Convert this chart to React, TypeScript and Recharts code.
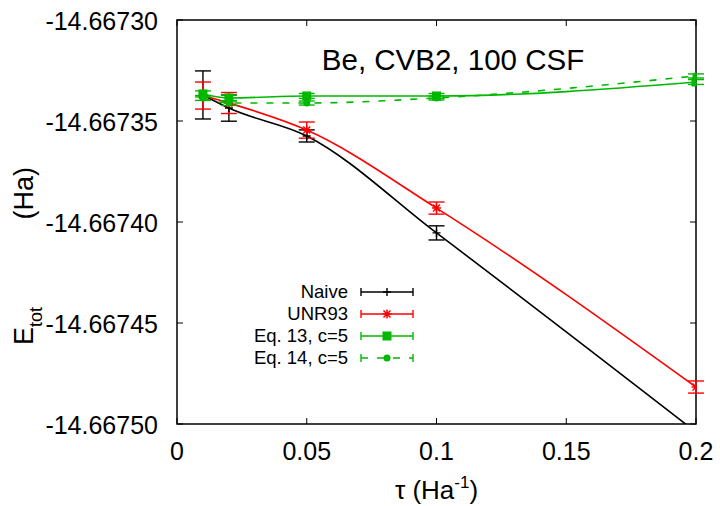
import { LineChart, Line, XAxis, YAxis, ErrorBar, ReferenceArea, Legend } from "recharts";

// tau values (Ha^-1)
const TAU = [0.01, 0.02, 0.05, 0.1, 0.2];

// total energies (Ha) and their error bars
// (the Naive point at tau=0.2 lies below the plotted range, its bar is not shown)
const NAIVE = [-14.6673371, -14.6673436, -14.6673574, -14.6674054, -14.667504];
const NAIVE_ERR = [0.0000119, 0.0000065, 0.000003, 0.0000035, null];
const UNR93 = [-14.6673374, -14.6673411, -14.6673545, -14.6673931, -14.6674817];
const UNR93_ERR = [0.0000067, 0.0000052, 0.000004, 0.000003, 0.000003];
const EQ13 = [-14.6673366, -14.6673386, -14.6673376, -14.6673376, -14.6673307];
const EQ13_ERR = [0.0000015, 0.0000015, 0.0000012, 0.0000012, 0.0000012];
const EQ14 = [-14.6673386, -14.6673411, -14.6673411, -14.6673386, -14.6673277];
const EQ14_ERR = [0.0000012, 0.0000012, 0.000001, 0.000001, 0.000001];

const X_TICKS = [0, 0.05, 0.1, 0.15, 0.2];
const Y_TICKS = [-14.6675, -14.66745, -14.6674, -14.66735, -14.6673];

const FONT = '"Liberation Sans", Arial, Helvetica, sans-serif';
const GREEN = "#00b800";

// plot frame in px (chart margins + axis sizes below give the same box)
const BOX = { left: 177, right: 696, top: 20, bottom: 424 };

const data = TAU.map((t, i) => ({
  tau: t,
  naive: NAIVE[i],
  naiveErr: NAIVE_ERR[i],
  unr: UNR93[i],
  unrErr: UNR93_ERR[i],
  eq13: EQ13[i],
  eq13Err: EQ13_ERR[i],
  eq14: EQ14[i],
  eq14Err: EQ14_ERR[i],
}));

const SERIES = [
  { key: "naive", err: "naiveErr", name: "Naive", color: "#000", marker: "plus", dash: undefined },
  { key: "unr", err: "unrErr", name: "UNR93", color: "#ff0000", marker: "star", dash: undefined },
  { key: "eq13", err: "eq13Err", name: "Eq. 13, c=5", color: GREEN, marker: "square", dash: undefined },
  { key: "eq14", err: "eq14Err", name: "Eq. 14, c=5", color: GREEN, marker: "circle", dash: "7 9" },
];

function Marker({ kind, cx, cy, color }: any) {
  if (cx == null || cy == null) return null;
  if (kind === "plus")
    return <path d={`M${cx - 4},${cy}h8M${cx},${cy - 4}v8`} stroke={color} strokeWidth={1.4} fill="none" />;
  if (kind === "star")
    return (
      <path
        d={`M${cx - 4.5},${cy}h9M${cx},${cy - 4.5}v9M${cx - 3.5},${cy - 3.5}l7,7M${cx - 3.5},${cy + 3.5}l7,-7`}
        stroke={color}
        strokeWidth={1.5}
        fill="none"
      />
    );
  if (kind === "square") return <rect x={cx - 4.5} y={cy - 4.5} width={9} height={9} fill={color} />;
  return <circle cx={cx} cy={cy} r={3.5} fill={color} />;
}

function XTick({ x, y, payload }: any) {
  const cx = payload.coordinate;
  return (
    <g>
      <line x1={cx} x2={cx} y1={BOX.bottom} y2={BOX.bottom - 6} stroke="#000" strokeWidth={1} />
      <line x1={cx} x2={cx} y1={BOX.top} y2={BOX.top + 6} stroke="#000" strokeWidth={1} />
      <text x={x} y={y} dy="0.71em" textAnchor="middle" fontFamily={FONT} fontSize={25} fill="#000">
        {String(payload.value)}
      </text>
    </g>
  );
}

function YTick({ x, y, payload }: any) {
  const cy = payload.coordinate;
  return (
    <g>
      <line x1={BOX.left} x2={BOX.left + 6} y1={cy} y2={cy} stroke="#000" strokeWidth={1} />
      <line x1={BOX.right} x2={BOX.right - 6} y1={cy} y2={cy} stroke="#000" strokeWidth={1} />
      <text x={x} y={y} dy="0.4em" textAnchor="end" fontFamily={FONT} fontSize={25} fill="#000">
        {Number(payload.value).toFixed(5)}
      </text>
    </g>
  );
}

function YLabel({ viewBox }: any) {
  const mid = viewBox.y + viewBox.height / 2;
  const bx = 33;
  const y1 = mid + 123;
  const y2 = mid - 55;
  return (
    <g fontFamily={FONT} fontSize={27} fill="#000">
      <text x={bx} y={y1} transform={`rotate(-90 ${bx} ${y1})`} textAnchor="start">
        E<tspan fontSize={18} dy={9}>tot</tspan>
      </text>
      <text x={bx} y={y2} transform={`rotate(-90 ${bx} ${y2})`} textAnchor="end">
        (Ha)
      </text>
    </g>
  );
}

function XLabel({ viewBox }: any) {
  const cx = viewBox.x + viewBox.width / 2;
  return (
    <text x={cx} y={499} textAnchor="middle" fontFamily={FONT} fontSize={26} fill="#000">
      τ (Ha<tspan fontSize={17} dy={-11}>-1</tspan>
      <tspan dy={11}>)</tspan>
    </text>
  );
}

const renderLegend = () => (
  <div style={{ fontFamily: FONT, fontSize: 18.5, color: "#000" }}>
    {SERIES.map((s) => (
      <div key={s.key} style={{ display: "flex", alignItems: "center", height: 22 }}>
        <span style={{ width: 158, textAlign: "right", whiteSpace: "nowrap", lineHeight: "22px" }}>{s.name}</span>
        <svg width={54} height={22} style={{ marginLeft: 12 }}>
          <line x1={1} x2={53} y1={11} y2={11} stroke={s.color} strokeWidth={1.6} strokeDasharray={s.dash} />
          <line x1={1} x2={1} y1={7} y2={15} stroke={s.color} strokeWidth={1.4} />
          <line x1={53} x2={53} y1={7} y2={15} stroke={s.color} strokeWidth={1.4} />
          <Marker kind={s.marker} cx={27} cy={11} color={s.color} />
        </svg>
      </div>
    ))}
  </div>
);

export default function App() {
  return (
    <div style={{ position: "absolute", left: 0, top: 0, width: 720, height: 506, background: "#fff" }}>
      <LineChart
        width={720}
        height={506}
        data={data}
        margin={{ top: BOX.top, right: 720 - BOX.right, left: 0, bottom: 0 }}
      >
        <XAxis
          dataKey="tau"
          type="number"
          domain={[0, 0.2]}
          ticks={X_TICKS}
          interval={0}
          allowDataOverflow
          height={506 - BOX.bottom}
          axisLine={false}
          tickLine={false}
          tickSize={0}
          tickMargin={18}
          tick={<XTick />}
          label={<XLabel />}
        />
        <YAxis
          type="number"
          domain={[-14.6675, -14.6673]}
          ticks={Y_TICKS}
          interval={0}
          allowDataOverflow
          width={BOX.left}
          axisLine={false}
          tickLine={false}
          tickSize={0}
          tickMargin={19}
          tick={<YTick />}
          label={<YLabel />}
        />
        <ReferenceArea
          x1={0}
          x2={0.2}
          y1={-14.6675}
          y2={-14.6673}
          fill="none"
          stroke="#000"
          strokeWidth={1.5}
          ifOverflow="visible"
        />
        {SERIES.map((s) => (
          <Line
            key={s.key}
            dataKey={s.key}
            name={s.name}
            type="monotone"
            stroke={s.color}
            strokeWidth={1.6}
            strokeDasharray={s.dash}
            isAnimationActive={false}
            activeDot={false}
            dot={(p: any) => <Marker key={`${s.key}-${p.index}`} kind={s.marker} cx={p.cx} cy={p.cy} color={s.color} />}
          >
            <ErrorBar
              dataKey={s.err}
              width={8}
              strokeWidth={1.4}
              stroke={s.color}
              direction="y"
              isAnimationActive={false}
            />
          </Line>
        ))}
        <text x={453} y={70} textAnchor="middle" fontFamily={FONT} fontSize={29.5} fill="#000">
          Be, CVB2, 100 CSF
        </text>
        <Legend
          content={renderLegend}
          layout="vertical"
          align="center"
          verticalAlign="middle"
          wrapperStyle={{ left: 190, top: 281, width: 240 }}
        />
      </LineChart>
    </div>
  );
}
